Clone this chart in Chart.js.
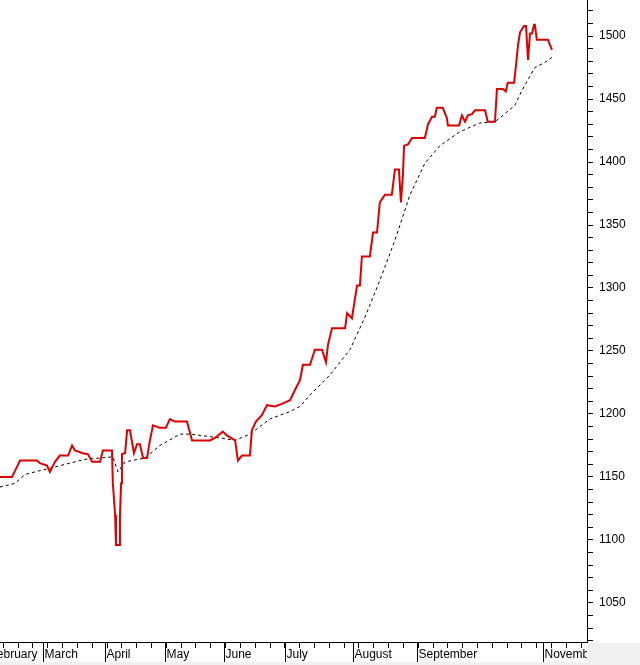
<!DOCTYPE html>
<html><head><meta charset="utf-8">
<script src="https://cdn.jsdelivr.net/npm/chart.js@4/dist/chart.umd.min.js"></script>
<style>html,body{margin:0;padding:0;background:#fff}#w{width:640px;height:665px}</style>
</head><body><div id="w"><canvas id="c"></canvas></div>
<script>
// x in trading-day index
const priceX=[0,4.2,5.3,7,13,14,16.5,17.5,19.3,21,23.9,25.3,26.3,28.8,30.9,32.3,35.1,36.1,39.3,39.6,40.4,40.7,42.1,42.1,42.5,42.8,43.9,44.6,45.6,47,48.1,49.1,50.2,51.6,52.6,53.7,56.1,58.2,59.6,61.4,65.6,67.4,73.7,75.4,78.2,79.6,82.5,83.5,84.9,87.7,88.4,89.8,91.9,93.7,96.5,98.9,101.8,103.5,105.3,106.3,108.8,110.5,113,114.4,115.1,116.5,121.1,121.8,123.5,124.6,125.3,126.3,127,129.8,130.9,132.3,133.3,135.1,137.5,138.6,140,140.7,141.4,141.8,143.2,144.6,149.1,150.2,151.6,152.6,153.3,155.4,156.8,157.2,161.1,162.1,163.2,164.2,165.6,166.7,170.2,171.2,173.7,174.4,176.5,177.5,178.2,180.4,181.1,181.8,182.5,183.9,184.6,185.3,186,186.7,187.4,187.7,188.4,192.3,193.7];
const priceY=[1150,1150,1155,1163,1163,1161,1159,1154,1162,1167,1167,1175,1171,1169,1168,1162,1162,1171,1171,1145,1120,1096,1096,1120,1145,1168,1169,1187,1187,1169,1176,1176,1165,1165,1179,1191,1189,1189,1196,1194,1194,1179,1179,1181,1186,1183,1179,1163,1167,1167,1187,1194,1199,1207,1206,1208,1211,1219,1227,1239,1239,1251,1251,1241,1255,1268,1268,1280,1276,1292,1302,1302,1325,1325,1344,1344,1368,1374,1374,1394,1394,1368,1390,1413,1414,1419,1419,1430,1436,1436,1443,1443,1435,1429,1429,1437,1432,1437,1438,1441,1441,1432,1432,1458,1458,1456,1463,1463,1477,1493,1503,1508,1508,1481,1502,1502,1509,1509,1497,1497,1489];
const maX=[0,5.3,8.8,14,21.1,29.8,35.1,39.6,41.4,43.9,50.9,56.1,63.2,66.7,70.2,77.2,82.5,87.7,94.7,101.8,105.3,108.8,115.8,122.8,128.1,133.3,138.6,143.9,149.1,154.4,161.4,168.4,173.7,175.4,180.7,183.2,187.7,191.2,193.7];
const maY=[1142,1145,1152,1155,1159,1164,1165,1166,1154,1162,1165,1175,1184,1184,1183,1181,1179,1184,1196,1202,1206,1215,1231,1251,1277,1306,1338,1374,1399,1413,1424,1431,1432,1435,1445,1457,1475,1479,1483];
const monthNames=['February','March','April','May','June','July','August','September','November'];
const monthDays=[-4.2,15.1,36.8,57.9,78.6,100,123.9,146.3,190.5];
const yTicks=[1050,1100,1150,1200,1250,1300,1350,1400,1450,1500];

const pts=(xs,ys)=>xs.map((x,i)=>({x:x,y:ys[i]}));
const xAxisPlugin={id:'xax',afterDraw(ch){
  const c=ch.ctx,xs=ch.scales.x,a=ch.chartArea;
  c.save();c.fillStyle='#f0f0f0';c.fillRect(a.right+1,a.bottom+1,640,30);c.fillRect(0,662,640,3);c.restore();
  c.save();c.beginPath();c.rect(0,0,a.right,662);c.clip();
  c.strokeStyle='#000';c.lineWidth=1;
  c.beginPath();c.moveTo(0,a.bottom+0.5);c.lineTo(a.right,a.bottom+0.5);c.stroke();
  for(let d=monthDays[0];d<=xs.max+1;d+=5.2){const px=Math.round(xs.getPixelForValue(d))+0.5;c.beginPath();c.moveTo(px,a.bottom);c.lineTo(px,a.bottom+6);c.stroke();}
  c.fillStyle='#000';c.font='12px "Liberation Sans", Arial';c.textBaseline='top';c.textAlign='left';
  monthDays.forEach((d,i)=>{const px=Math.round(xs.getPixelForValue(d))+0.5;c.beginPath();c.moveTo(px,a.bottom);c.lineTo(px,a.bottom+20);c.stroke();c.fillText(monthNames[i],px+1,a.bottom+7);});
  c.restore();
}};
new Chart(document.getElementById('c'),{
 type:'line',
 data:{datasets:[
  {data:pts(priceX,priceY),borderColor:'#e00000',borderWidth:2,pointRadius:0,tension:0,fill:false,order:1},
  {data:pts(maX,maY),borderColor:'#000',borderWidth:1,borderDash:[3,3],pointRadius:0,tension:0,fill:false,order:2}
 ]},
 options:{responsive:true,maintainAspectRatio:false,animation:false,
  layout:{padding:{left:0,right:0,top:0,bottom:23}},
  plugins:{legend:{display:false},tooltip:{enabled:false}},
  scales:{
   x:{type:'linear',min:0,max:206,display:false},
   y:{position:'right',min:1019,max:1528.6,
      afterFit(s){s.width=53;s.paddingTop=0;s.paddingBottom=0;},
      afterBuildTicks(s){const t=[];for(let v=1020;v<=1520;v+=10)t.push({value:v});s.ticks=t;},
      border:{display:true,color:'#000',width:1},
      grid:{drawOnChartArea:false,drawTicks:true,tickLength:6,color:'#000'},
      ticks:{color:'#000',autoSkip:false,font:{family:'"Liberation Sans", Arial',size:12},padding:6,
        callback:(v)=>yTicks.includes(v)?String(v):''}}
  }},
 plugins:[xAxisPlugin]
});
</script></body></html>
